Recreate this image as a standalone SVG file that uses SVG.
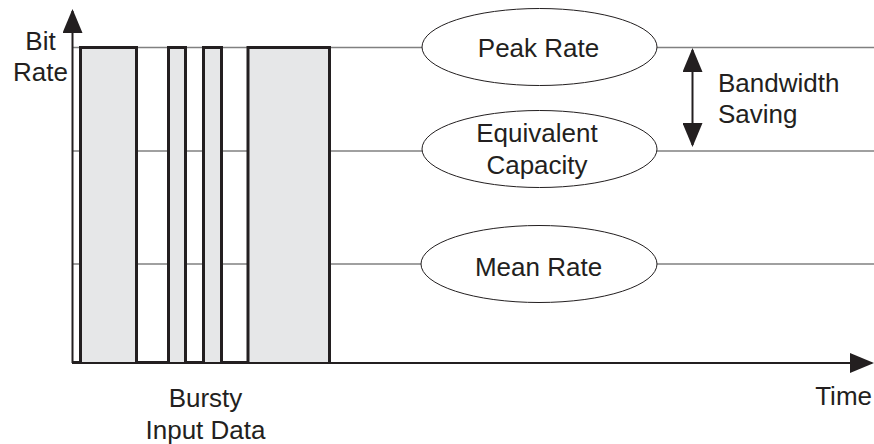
<svg xmlns="http://www.w3.org/2000/svg" width="874" height="444" viewBox="0 0 874 444">
  <style>
    .t { font-family: "Liberation Sans", Arial, sans-serif; font-size: 26px; fill: #231f20; }
    .lvl { stroke: #808080; stroke-width: 1.5; fill: none; }
    .ell { fill: #ffffff; stroke: #231f20; stroke-width: 1; }
    .ax { stroke: #231f20; stroke-width: 2; fill: none; }
  </style>
  <defs>
    <marker id="ah" viewBox="0 0 24 20" refX="22" refY="10" markerWidth="24" markerHeight="20" markerUnits="userSpaceOnUse" orient="auto-start-reverse">
      <path d="M0,0 L24,10 L0,20 Z" fill="#231f20"/>
    </marker>
  </defs>
  <rect width="874" height="444" fill="#ffffff"/>

  <g id="connectors">
    <line class="lvl" x1="73" y1="47.5" x2="874" y2="47.5"/>
    <line class="lvl" x1="73" y1="151" x2="874" y2="151"/>
    <line class="lvl" x1="73" y1="264" x2="874" y2="264"/>
    <line class="ax" x1="692.5" y1="50" x2="692.5" y2="145" marker-start="url(#ah)" marker-end="url(#ah)"/>
  </g>

  <g id="waveform">
    <rect x="80.5" y="47.5" width="56" height="315" fill="#e6e7e8"/>
    <rect x="168.5" y="47.5" width="17" height="315" fill="#e6e7e8"/>
    <rect x="203.5" y="47.5" width="18" height="315" fill="#e6e7e8"/>
    <rect x="248" y="47.5" width="81.5" height="315" fill="#e6e7e8"/>
    <path d="M73,362.5 H80.5 V47.5 H136.5 V362.5 H168.5 V47.5 H185.5 V362.5 H203.5 V47.5 H221.5 V362.5 H248 V47.5 H329.5 V362.5" fill="none" stroke="#231f20" stroke-width="3" stroke-linejoin="miter"/>
  </g>

  <g id="axes">
    <line class="ax" x1="72.5" y1="363" x2="72.5" y2="11" marker-end="url(#ah)"/>
    <line class="ax" x1="72" y1="363" x2="872" y2="363" marker-end="url(#ah)"/>
    <text class="t" x="40.5" y="50" text-anchor="middle">Bit</text>
    <text class="t" x="40.5" y="81" text-anchor="middle">Rate</text>
    <text class="t" x="872" y="405" text-anchor="end">Time</text>
    <text class="t" x="205.5" y="407" text-anchor="middle">Bursty</text>
    <text class="t" x="205.5" y="439" text-anchor="middle">Input Data</text>
  </g>

  <g id="peak-rate">
    <ellipse class="ell" cx="539.5" cy="47" rx="117.5" ry="38.5"/>
    <text class="t" x="538.5" y="57" text-anchor="middle">Peak Rate</text>
  </g>

  <g id="equivalent-capacity">
    <ellipse class="ell" cx="539.5" cy="149" rx="117.5" ry="38.5"/>
    <text class="t" x="537" y="142" text-anchor="middle">Equivalent</text>
    <text class="t" x="537" y="174" text-anchor="middle">Capacity</text>
  </g>

  <g id="mean-rate">
    <ellipse class="ell" cx="539" cy="264" rx="118" ry="38.5"/>
    <text class="t" x="538.5" y="276" text-anchor="middle">Mean Rate</text>
  </g>

  <g id="bandwidth-saving">
    <text class="t" x="718" y="92">Bandwidth</text>
    <text class="t" x="718" y="123">Saving</text>
  </g>
</svg>
